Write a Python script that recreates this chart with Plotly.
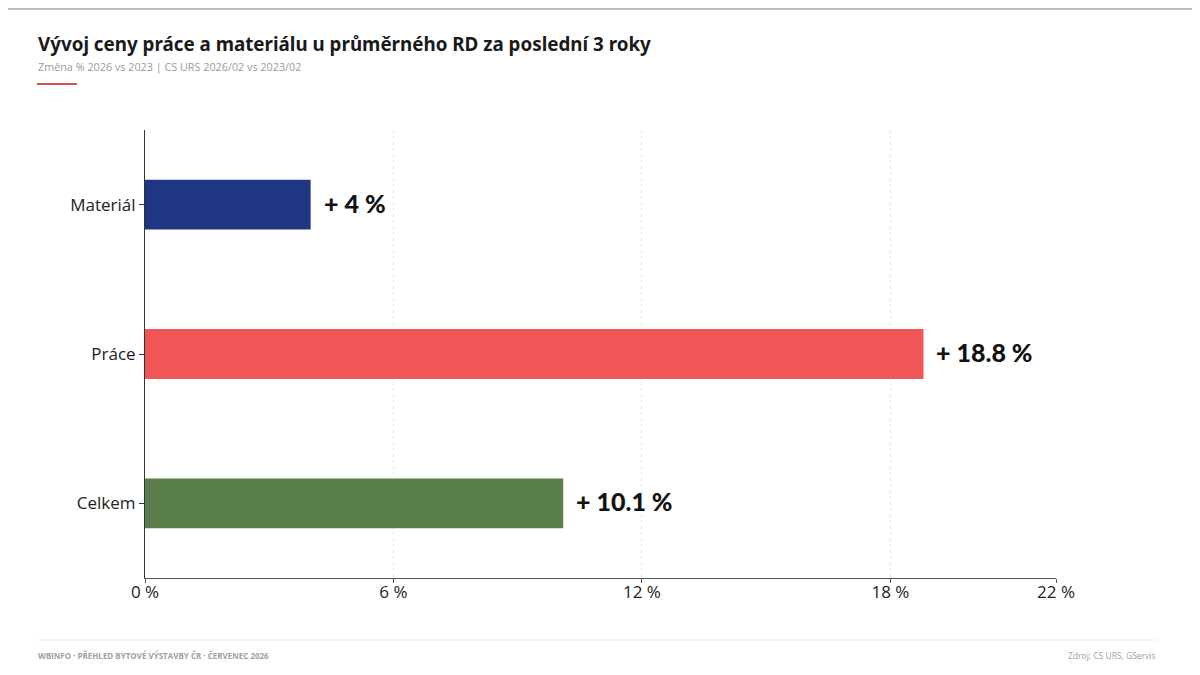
import plotly.graph_objects as go

# data
categories = ["Materiál", "Práce", "Celkem"]
values = [4.0, 18.8, 10.1]
labels = ["+ 4 %", "+ 18.8 %", "+ 10.1 %"]
bar_colors = ["#1f3684", "#f05656", "#5b7f4c"]
tick_vals = [0, 6, 12, 18, 22]
tick_text = ["0 %", "6 %", "12 %", "18 %", "22 %"]

W, H = 1200, 675
OFF = 8  # page body margin
L, R, T, B = 145 - OFF, 144 + OFF, 130 - OFF, 97 + OFF
pw, ph = W - L - R, H - T - B


def px(x):
    return (x - OFF - L) / pw


def py(y):
    return (H - B - (y - OFF)) / ph


fig = go.Figure(go.Bar(
    x=values, y=categories, orientation="h",
    marker=dict(color=bar_colors, line=dict(width=0)),
    hoverinfo="skip",
))

# value labels right of each bar
for cat, val, lab in zip(categories, values, labels):
    fig.add_annotation(x=val, y=cat, text=lab, xref="x", yref="y",
                       xanchor="left", yanchor="middle", xshift=11, yshift=2,
                       showarrow=False,
                       font=dict(family="Lato", size=25, color="#111", weight=900))

fig.update_layout(
    width=W, height=H,
    margin=dict(l=L, r=R, t=T, b=B),
    plot_bgcolor="white", paper_bgcolor="white",
    showlegend=False,
    bargap=2 / 3,
    font=dict(family="Open Sans", color="#222"),
    xaxis=dict(range=[0, 22], tickvals=tick_vals, ticktext=tick_text,
               tickfont=dict(size=17, color="#222"), ticklabelstandoff=-5,
               showgrid=True, gridcolor="#e6e6e6", griddash="dot", gridwidth=1,
               zeroline=False, showline=True, linecolor="#555", linewidth=1,
               ticks="outside", ticklen=4, tickcolor="#555", fixedrange=True),
    yaxis=dict(categoryorder="array", categoryarray=categories[::-1],
               range=[-0.5, 2.5],
               tickfont=dict(size=17, color="#222"),
               showline=True, linecolor="#333", linewidth=1,
               ticks="outside", ticklen=5, tickcolor="#333", fixedrange=True),
)

# frame decorations: top rule, red accent, footer rule
fig.add_shape(type="line", xref="paper", yref="paper",
              x0=px(0), x1=px(W + OFF), y0=py(9), y1=py(9),
              line=dict(color="#bdbdbd", width=2))
fig.add_shape(type="line", xref="paper", yref="paper",
              x0=px(37), x1=px(77), y0=py(84), y1=py(84),
              line=dict(color="#d9534f", width=2))
fig.add_shape(type="line", xref="paper", yref="paper",
              x0=px(36), x1=px(1158), y0=py(640), y1=py(640),
              line=dict(color="#f0f0f0", width=1))

fig.add_annotation(text="<b>Vývoj ceny práce a materiálu u průměrného RD za poslední 3 roky</b>",
                   xref="paper", yref="paper", x=px(36), y=py(44),
                   xanchor="left", yanchor="middle", showarrow=False,
                   font=dict(family="Noto Sans", size=18.8, color="#1a1a1a"))
fig.add_annotation(text="Změna % 2026 vs 2023 | CS URS 2026/02 vs 2023/02",
                   xref="paper", yref="paper", x=px(36), y=py(66),
                   xanchor="left", yanchor="middle", showarrow=False,
                   font=dict(family="Open Sans", size=10.8, color="#9a9a9a"))
fig.add_annotation(text="<b>WBINFO · PŘEHLED BYTOVÉ VÝSTAVBY ČR · ČERVENEC 2026</b>",
                   xref="paper", yref="paper", x=px(36), y=py(655),
                   xanchor="left", yanchor="middle", showarrow=False,
                   font=dict(family="Open Sans", size=8, color="#a0a0a0"))
fig.add_annotation(text="Zdroj: CS URS, GServis",
                   xref="paper", yref="paper", x=px(1158), y=py(655),
                   xanchor="right", yanchor="middle", showarrow=False,
                   font=dict(family="Open Sans", size=8.5, color="#a0a0a0"))

fig.write_html("out.html")
